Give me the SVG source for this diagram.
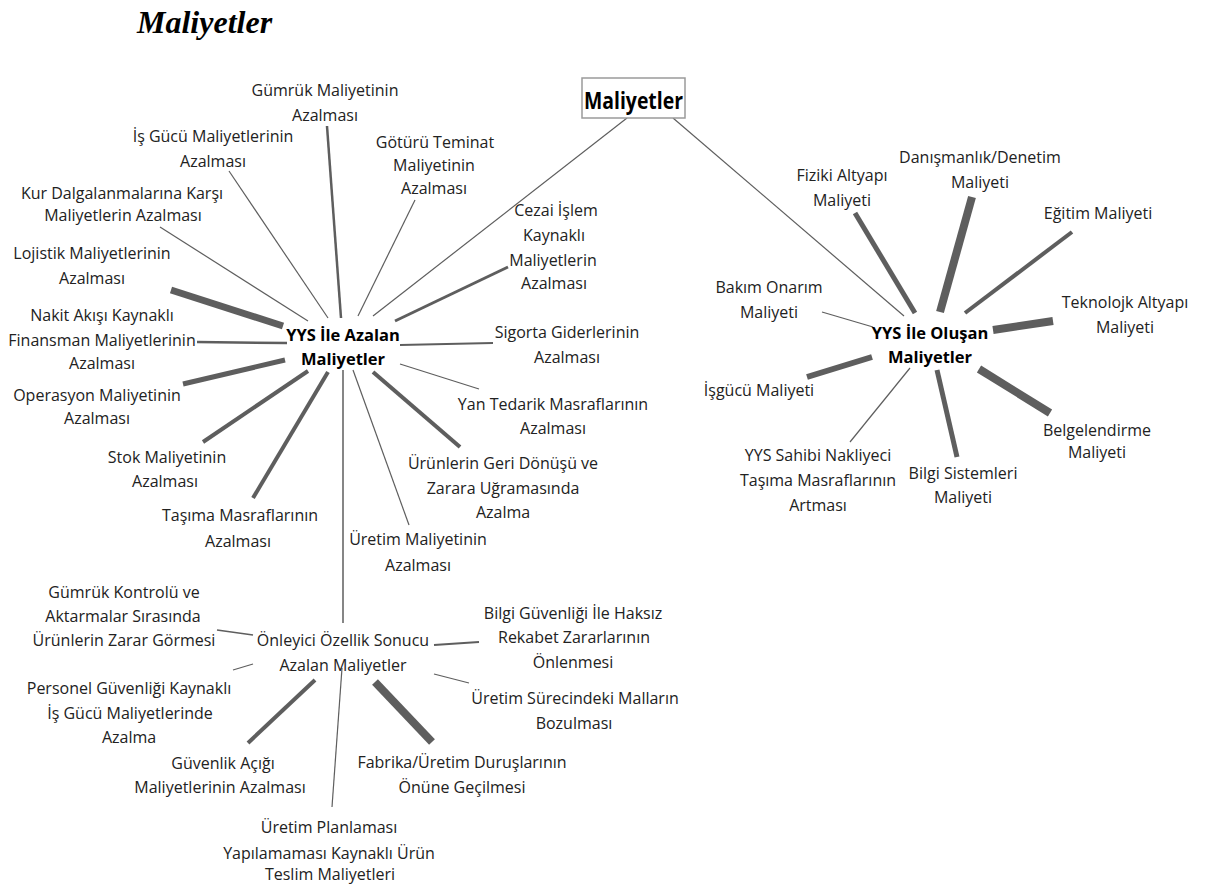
<svg xmlns="http://www.w3.org/2000/svg" width="1207" height="884" viewBox="0 0 1207 884">
<style>
.t{font-family:"Open Sans","Noto Sans","DejaVu Sans",sans-serif;font-size:16px;fill:#222;text-anchor:middle}
.b{font-weight:bold;fill:#000}
.c line{stroke:#5e5e5e;stroke-linecap:butt}
</style>
<rect width="1207" height="884" fill="#fff"/>
<text x="137" y="33" style="font-family:'Liberation Serif','Times New Roman',serif;font-size:32px;font-weight:bold;font-style:italic;fill:#000">Maliyetler</text>
<g class="c" id="connectors">
<line x1="627" y1="118" x2="373" y2="316" stroke-width="1.2"/>
<line x1="673" y1="118" x2="904" y2="316" stroke-width="1.2"/>
<line x1="327" y1="126" x2="341" y2="318" stroke-width="2.5"/>
<line x1="229" y1="171" x2="328" y2="318" stroke-width="1.2"/>
<line x1="160" y1="227" x2="308" y2="321" stroke-width="1.2"/>
<line x1="415" y1="200" x2="358" y2="316" stroke-width="1.2"/>
<line x1="508" y1="267" x2="395" y2="321" stroke-width="3"/>
<line x1="171" y1="290" x2="283" y2="326" stroke-width="7"/>
<line x1="197" y1="342" x2="287" y2="343" stroke-width="2.5"/>
<line x1="183" y1="384" x2="285" y2="360" stroke-width="5"/>
<line x1="203" y1="442" x2="308" y2="371" stroke-width="4"/>
<line x1="253" y1="498" x2="328" y2="372" stroke-width="4"/>
<line x1="343" y1="370" x2="343" y2="623" stroke-width="1.5"/>
<line x1="353" y1="370" x2="409" y2="525" stroke-width="1.2"/>
<line x1="373" y1="372" x2="460" y2="447" stroke-width="4"/>
<line x1="400" y1="364" x2="479" y2="389" stroke-width="1.2"/>
<line x1="400" y1="345" x2="493" y2="343" stroke-width="2"/>
<line x1="217" y1="630" x2="253" y2="635" stroke-width="1.5"/>
<line x1="233" y1="670" x2="253" y2="664" stroke-width="1.2"/>
<line x1="315" y1="680" x2="248" y2="743" stroke-width="4"/>
<line x1="342" y1="668" x2="332" y2="807" stroke-width="1.2"/>
<line x1="375" y1="682" x2="432" y2="742" stroke-width="8"/>
<line x1="434" y1="674" x2="469" y2="683" stroke-width="1.2"/>
<line x1="434" y1="645" x2="479" y2="642" stroke-width="2"/>
<line x1="855" y1="213" x2="915" y2="313" stroke-width="5"/>
<line x1="972" y1="197" x2="940" y2="312" stroke-width="8"/>
<line x1="1072" y1="232" x2="965" y2="313" stroke-width="4"/>
<line x1="822" y1="312" x2="873" y2="327" stroke-width="1.2"/>
<line x1="993" y1="330" x2="1053" y2="321" stroke-width="8"/>
<line x1="872" y1="357" x2="807" y2="377" stroke-width="6"/>
<line x1="910" y1="368" x2="850" y2="442" stroke-width="1.2"/>
<line x1="937" y1="370" x2="957" y2="457" stroke-width="5"/>
<line x1="979" y1="369" x2="1050" y2="413" stroke-width="8"/>
</g>
<g id="n-root">
<rect x="582" y="78" width="103" height="40" fill="#fff" stroke="#9a9a9a" stroke-width="1.5"/>
<text class="t b" x="633.5" y="109" style="font-size:24px" textLength="99" lengthAdjust="spacingAndGlyphs">Maliyetler</text>
</g>
<g id="n-hubL"><text class="t b" style="font-size:16.5px"><tspan x="343" y="340.5">YYS İle Azalan</tspan><tspan x="343" y="364.5">Maliyetler</tspan></text></g>
<g id="n-hubR"><text class="t b" style="font-size:16.5px"><tspan x="930" y="338.5">YYS İle Oluşan</tspan><tspan x="930" y="362.5">Maliyetler</tspan></text></g>
<g id="n-gumruk"><text class="t"><tspan x="325" y="95.5">Gümrük Maliyetinin</tspan><tspan x="325" y="120.5">Azalması</tspan></text></g>
<g id="n-isgucu"><text class="t"><tspan x="213" y="141.5">İş Gücü Maliyetlerinin</tspan><tspan x="213" y="166.5">Azalması</tspan></text></g>
<g id="n-kur"><text class="t"><tspan x="122" y="198.5">Kur Dalgalanmalarına Karşı</tspan><tspan x="123" y="220.5">Maliyetlerin Azalması</tspan></text></g>
<g id="n-lojistik"><text class="t"><tspan x="92" y="258.5">Lojistik Maliyetlerinin</tspan><tspan x="92" y="283.5">Azalması</tspan></text></g>
<g id="n-nakit"><text class="t"><tspan x="102" y="320.5">Nakit Akışı Kaynaklı</tspan><tspan x="102" y="345.5">Finansman Maliyetlerinin</tspan><tspan x="102" y="368.5">Azalması</tspan></text></g>
<g id="n-operasyon"><text class="t"><tspan x="97" y="400.5">Operasyon Maliyetinin</tspan><tspan x="97" y="423.5">Azalması</tspan></text></g>
<g id="n-stok"><text class="t"><tspan x="167" y="462.5">Stok Maliyetinin</tspan><tspan x="165" y="486.5">Azalması</tspan></text></g>
<g id="n-tasima"><text class="t"><tspan x="240" y="520.5">Taşıma Masraflarının</tspan><tspan x="238" y="546.5">Azalması</tspan></text></g>
<g id="n-uretim"><text class="t"><tspan x="418" y="544.5">Üretim Maliyetinin</tspan><tspan x="418" y="570.5">Azalması</tspan></text></g>
<g id="n-urunler"><text class="t"><tspan x="503" y="468.5">Ürünlerin Geri Dönüşü ve</tspan><tspan x="503" y="493.5">Zarara Uğramasında</tspan><tspan x="503" y="517.5">Azalma</tspan></text></g>
<g id="n-yan"><text class="t"><tspan x="553" y="409.5">Yan Tedarik Masraflarının</tspan><tspan x="553" y="433.5">Azalması</tspan></text></g>
<g id="n-sigorta"><text class="t"><tspan x="567" y="337.5">Sigorta Giderlerinin</tspan><tspan x="567" y="362.5">Azalması</tspan></text></g>
<g id="n-cezai"><text class="t"><tspan x="556" y="215.5">Cezai İşlem</tspan><tspan x="554" y="240.5">Kaynaklı</tspan><tspan x="553" y="265.5">Maliyetlerin</tspan><tspan x="554" y="288.5">Azalması</tspan></text></g>
<g id="n-goturu"><text class="t"><tspan x="435" y="147.5">Götürü Teminat</tspan><tspan x="434" y="170.5">Maliyetinin</tspan><tspan x="434" y="193.5">Azalması</tspan></text></g>
<g id="n-onleyici"><text class="t"><tspan x="343" y="645.5">Önleyici Özellik Sonucu</tspan><tspan x="343" y="670.5">Azalan Maliyetler</tspan></text></g>
<g id="n-gkontrol"><text class="t"><tspan x="124" y="597.5">Gümrük Kontrolü ve</tspan><tspan x="123" y="621.5">Aktarmalar Sırasında</tspan><tspan x="124" y="645.5">Ürünlerin Zarar Görmesi</tspan></text></g>
<g id="n-personel"><text class="t"><tspan x="129" y="693.5">Personel Güvenliği Kaynaklı</tspan><tspan x="130" y="718.5">İş Gücü Maliyetlerinde</tspan><tspan x="129" y="742.5">Azalma</tspan></text></g>
<g id="n-guvenlik"><text class="t"><tspan x="223" y="768.5">Güvenlik Açığı</tspan><tspan x="220" y="792.5">Maliyetlerinin Azalması</tspan></text></g>
<g id="n-planlama"><text class="t"><tspan x="329" y="832.5">Üretim Planlaması</tspan><tspan x="329" y="858.5">Yapılamaması Kaynaklı Ürün</tspan><tspan x="330" y="880">Teslim Maliyetleri</tspan></text></g>
<g id="n-fabrika"><text class="t"><tspan x="462" y="767.5">Fabrika/Üretim Duruşlarının</tspan><tspan x="462" y="792.5">Önüne Geçilmesi</tspan></text></g>
<g id="n-surec"><text class="t"><tspan x="575" y="703.5">Üretim Sürecindeki Malların</tspan><tspan x="574" y="728.5">Bozulması</tspan></text></g>
<g id="n-bilgig"><text class="t"><tspan x="573" y="618.5">Bilgi Güvenliği İle Haksız</tspan><tspan x="574" y="642.5">Rekabet Zararlarının</tspan><tspan x="573" y="667.5">Önlenmesi</tspan></text></g>
<g id="n-fiziki"><text class="t"><tspan x="842" y="180.5">Fiziki Altyapı</tspan><tspan x="842" y="205.5">Maliyeti</tspan></text></g>
<g id="n-danis"><text class="t"><tspan x="980" y="162.5">Danışmanlık/Denetim</tspan><tspan x="980" y="187.5">Maliyeti</tspan></text></g>
<g id="n-egitim"><text class="t"><tspan x="1098" y="218.5">Eğitim Maliyeti</tspan></text></g>
<g id="n-bakim"><text class="t"><tspan x="769" y="292.5">Bakım Onarım</tspan><tspan x="769" y="317.5">Maliyeti</tspan></text></g>
<g id="n-teknoloji"><text class="t"><tspan x="1125" y="307.5">Teknolojk Altyapı</tspan><tspan x="1125" y="332.5">Maliyeti</tspan></text></g>
<g id="n-isgucu2"><text class="t"><tspan x="759" y="395.5">İşgücü Maliyeti</tspan></text></g>
<g id="n-yyssahibi"><text class="t"><tspan x="818" y="460.5">YYS Sahibi Nakliyeci</tspan><tspan x="818" y="485.5">Taşıma Masraflarının</tspan><tspan x="818" y="510.5">Artması</tspan></text></g>
<g id="n-bilgis"><text class="t"><tspan x="963" y="478.5">Bilgi Sistemleri</tspan><tspan x="963" y="502.5">Maliyeti</tspan></text></g>
<g id="n-belge"><text class="t"><tspan x="1097" y="435.5">Belgelendirme</tspan><tspan x="1097" y="457.5">Maliyeti</tspan></text></g>
</svg>
